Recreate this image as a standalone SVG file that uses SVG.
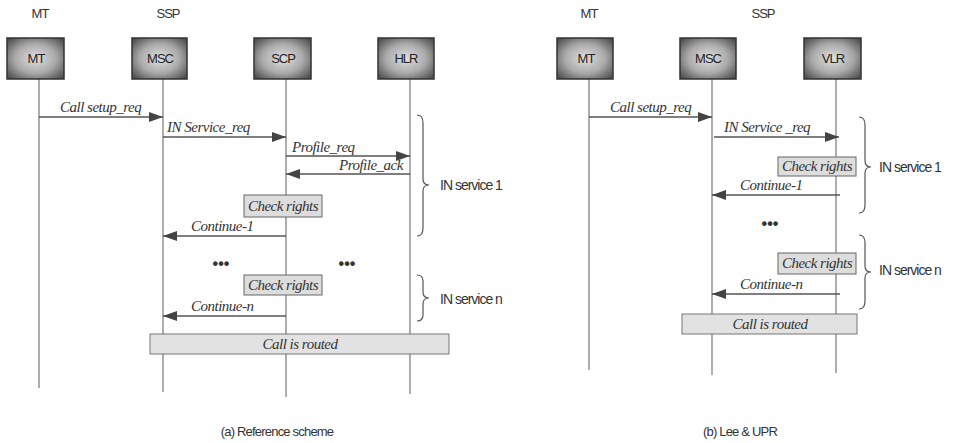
<svg xmlns="http://www.w3.org/2000/svg" width="956" height="443" viewBox="0 0 956 443">
<style>
.hdr{font-family:"Liberation Sans",Arial,sans-serif;font-size:13px;letter-spacing:-1px;fill:#333;text-anchor:middle}
.nt{font-family:"Liberation Sans",Arial,sans-serif;font-size:13px;letter-spacing:-1px;fill:#222;text-anchor:middle}
.lbl{font-family:"Liberation Serif","Times New Roman",serif;font-style:italic;font-size:15px;letter-spacing:-0.5px;fill:#333}
.svc{font-family:"Liberation Sans",Arial,sans-serif;font-size:14px;letter-spacing:-1px;fill:#333}
.cap{font-family:"Liberation Sans",Arial,sans-serif;font-size:13px;letter-spacing:-0.8px;fill:#333;text-anchor:middle}
.node{fill:url(#ng);stroke:#333;stroke-width:1.5}
.life{stroke:#777;stroke-width:1.2;fill:none}
.msg{stroke:#555;stroke-width:1.3;fill:none;marker-end:url(#ah)}
.chk{fill:#ddd;stroke:#666;stroke-width:1}
.bar{fill:#e2e2e2;stroke:#777;stroke-width:1}
.br{stroke:#555;stroke-width:1.2;fill:none}
.dots{font-family:"Liberation Sans",Arial,sans-serif;font-size:16px;font-weight:bold;fill:#333;text-anchor:middle;letter-spacing:0px}
</style>
<defs>
<radialGradient id="ng" cx="50%" cy="50%" r="65%">
<stop offset="0" stop-color="#e0e0e0"/>
<stop offset="0.55" stop-color="#aaa"/>
<stop offset="1" stop-color="#505050"/>
</radialGradient>
<marker id="ah" viewBox="0 0 14 10" refX="14" refY="5" markerWidth="14" markerHeight="10" markerUnits="userSpaceOnUse" orient="auto">
<path d="M0,0 L14,5 L0,10 z" fill="#444"/>
</marker>
</defs>
<rect width="956" height="443" fill="#fff"/>

<!-- Panel (a) -->
<text class="hdr" x="40" y="18">MT</text>
<text class="hdr" x="168" y="18">SSP</text>

<g id="a-lifelines">
<line class="life" x1="39" y1="79" x2="39" y2="388"/>
<line class="life" x1="163" y1="79" x2="163" y2="392"/>
<line class="life" x1="286" y1="79" x2="286" y2="397"/>
<line class="life" x1="410" y1="79" x2="410" y2="394"/>
</g>

<g id="a-MT"><rect class="node" x="7" y="38" width="57" height="41"/><text class="nt" x="36" y="63">MT</text></g>
<g id="a-MSC"><rect class="node" x="132" y="38" width="55" height="41"/><text class="nt" x="160" y="63">MSC</text></g>
<g id="a-SCP"><rect class="node" x="254" y="38" width="57" height="41"/><text class="nt" x="283" y="63">SCP</text></g>
<g id="a-HLR"><rect class="node" x="378" y="38" width="56" height="41"/><text class="nt" x="406" y="63">HLR</text></g>

<g id="a-connectors">
<line class="msg" x1="39" y1="117" x2="163" y2="117"/>
<line class="msg" x1="163" y1="137" x2="286" y2="137"/>
<line class="msg" x1="286" y1="156" x2="410" y2="156"/>
<line class="msg" x1="410" y1="174" x2="286" y2="174"/>
<line class="msg" x1="286" y1="236" x2="163" y2="236"/>
<line class="msg" x1="286" y1="316" x2="163" y2="316"/>
</g>
<g id="a-labels">
<text class="lbl" x="60" y="112">Call setup_req</text>
<text class="lbl" x="167" y="132">IN Service_req</text>
<text class="lbl" x="292" y="152">Profile_req</text>
<text class="lbl" x="339" y="170">Profile_ack</text>
<text class="lbl" x="191" y="231">Continue-1</text>
<text class="lbl" x="191" y="311">Continue-n</text>
<text class="dots" x="221" y="269">•••</text>
<text class="dots" x="347" y="269">•••</text>
</g>
<g id="a-check1"><rect class="chk" x="244" y="195" width="78" height="22"/><text class="lbl" x="283" y="211" text-anchor="middle">Check rights</text></g>
<g id="a-check2"><rect class="chk" x="244" y="275" width="78" height="20"/><text class="lbl" x="283" y="290" text-anchor="middle">Check rights</text></g>
<g id="a-routed"><rect class="bar" x="150" y="334" width="299" height="20"/><text class="lbl" x="300" y="349" text-anchor="middle">Call is routed</text></g>
<g id="a-brace1"><path class="br" d="M417,115 Q423,115 423,123 L423,179 Q423,185 429,185 Q423,185 423,191 L423,228 Q423,236 417,236"/><text class="svc" x="440" y="190">IN service 1</text></g>
<g id="a-brace2"><path class="br" d="M417,275 Q423,275 423,281 L423,292 Q423,298 429,298 Q423,298 423,304 L423,315 Q423,321 417,321"/><text class="svc" x="440" y="304">IN service n</text></g>
<text class="cap" x="277" y="436">(a) Reference scheme</text>

<!-- Panel (b) -->
<text class="hdr" x="589" y="18">MT</text>
<text class="hdr" x="763" y="18">SSP</text>

<g id="b-lifelines">
<line class="life" x1="589" y1="79" x2="589" y2="370"/>
<line class="life" x1="712" y1="79" x2="712" y2="375"/>
<line class="life" x1="836" y1="79" x2="836" y2="373"/>
</g>

<g id="b-MT"><rect class="node" x="557" y="38" width="56" height="41"/><text class="nt" x="586" y="63">MT</text></g>
<g id="b-MSC"><rect class="node" x="680" y="38" width="56" height="41"/><text class="nt" x="708" y="63">MSC</text></g>
<g id="b-VLR"><rect class="node" x="804" y="38" width="57" height="41"/><text class="nt" x="833" y="63">VLR</text></g>

<g id="b-connectors">
<line class="msg" x1="589" y1="117" x2="712" y2="117"/>
<line class="msg" x1="714" y1="137" x2="839" y2="137"/>
<line class="msg" x1="840" y1="195" x2="712" y2="195"/>
<line class="msg" x1="840" y1="294" x2="712" y2="294"/>
</g>
<g id="b-labels">
<text class="lbl" x="610" y="112">Call setup_req</text>
<text class="lbl" x="724" y="132">IN Service _req</text>
<text class="lbl" x="740" y="190">Continue-1</text>
<text class="lbl" x="740" y="289">Continue-n</text>
<text class="dots" x="770" y="229">•••</text>
</g>
<g id="b-check1"><rect class="chk" x="778" y="157" width="78" height="19"/><text class="lbl" x="817" y="171" text-anchor="middle">Check rights</text></g>
<g id="b-check2"><rect class="chk" x="778" y="253" width="78" height="21"/><text class="lbl" x="817" y="268" text-anchor="middle">Check rights</text></g>
<g id="b-routed"><rect class="bar" x="682" y="314" width="175" height="20"/><text class="lbl" x="770" y="329" text-anchor="middle">Call is routed</text></g>
<g id="b-brace1"><path class="br" d="M859,117 Q865,117 865,125 L865,161 Q865,167 871,167 Q865,167 865,173 L865,205 Q865,213 859,213"/><text class="svc" x="879" y="172">IN service 1</text></g>
<g id="b-brace2"><path class="br" d="M859,235 Q865,235 865,243 L865,266 Q865,272 871,272 Q865,272 865,278 L865,301 Q865,309 859,309"/><text class="svc" x="879" y="275">IN service n</text></g>
<text class="cap" x="740" y="436">(b) Lee &amp; UPR</text>
</svg>
